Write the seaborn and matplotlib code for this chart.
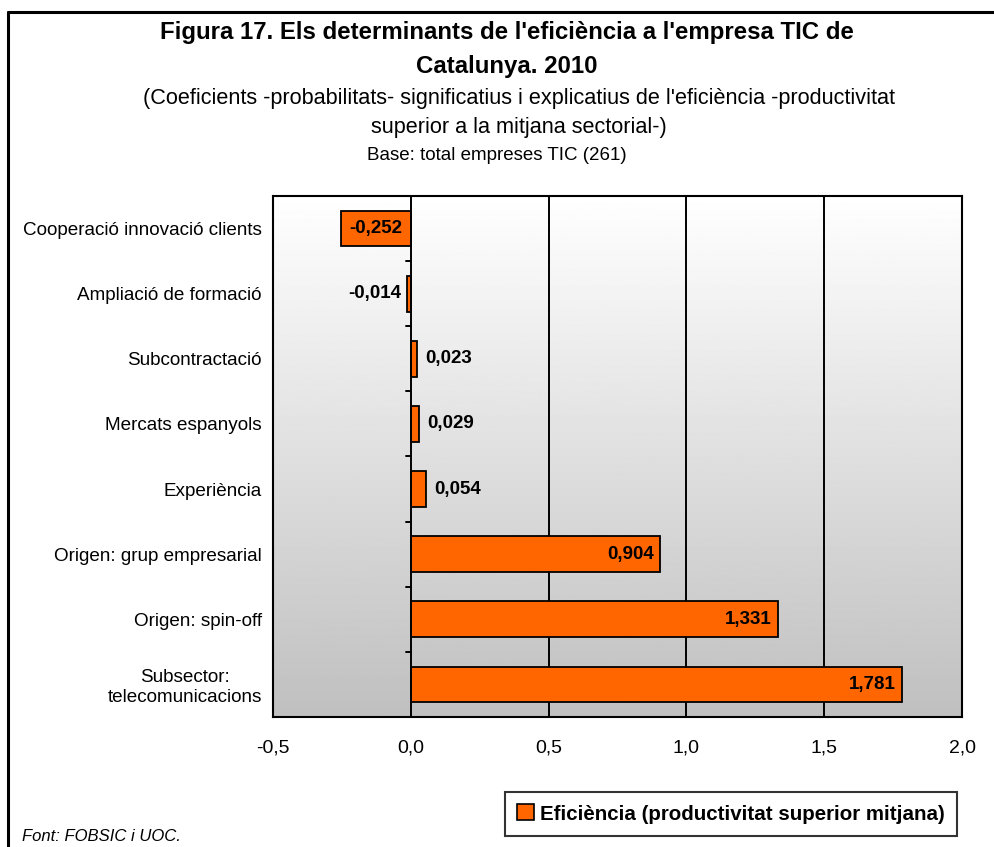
"""Figura 17: determinants de l'eficiència a l'empresa TIC de Catalunya (2010)."""

import matplotlib

matplotlib.use("Agg")

import matplotlib.pyplot as plt
import numpy as np
import pandas as pd
import seaborn as sns
from matplotlib.lines import Line2D
from matplotlib.patches import Patch

CATEGORIES = [
    "Cooperació innovació clients",
    "Ampliació de formació",
    "Subcontractació",
    "Mercats espanyols",
    "Experiència",
    "Origen: grup empresarial",
    "Origen: spin-off",
    "Subsector:\ntelecomunicacions",
]
VALUES = [-0.252, -0.014, 0.023, 0.029, 0.054, 0.904, 1.331, 1.781]
X_TICKS = [-0.5, 0.0, 0.5, 1.0, 1.5, 2.0]
SERIES_NAME = "Eficiència (productivitat superior mitjana)"

BAR_COLOR = "#ff6600"
FONT = ["Liberation Sans", "DejaVu Sans"]


def fmt(v, decimals=3):
    return f"{v:.{decimals}f}".replace(".", ",")


sns.set_theme(style="white")
plt.rcParams["font.family"] = FONT
plt.rcParams["text.color"] = "black"
plt.rcParams["xtick.color"] = "black"
plt.rcParams["ytick.color"] = "black"
plt.rcParams["axes.labelcolor"] = "black"

df = pd.DataFrame({"categoria": CATEGORIES, "valor": VALUES})

fig = plt.figure(figsize=(9.94, 8.47), dpi=100)
ax = fig.add_axes([273 / 994, 1 - 717 / 847, (962 - 273) / 994, (717 - 196) / 847])

# gradient background, white at top to grey at bottom
grad = np.linspace(1.0, 0.75, 256).reshape(-1, 1)
ax.imshow(
    grad,
    cmap="gray",
    vmin=0,
    vmax=1,
    aspect="auto",
    extent=(X_TICKS[0], X_TICKS[-1], len(CATEGORIES) - 0.5, -0.5),
    zorder=0,
)

for x in X_TICKS[2:-1]:
    ax.axvline(x, color="black", lw=1.4, zorder=1)

sns.barplot(
    data=df,
    x="valor",
    y="categoria",
    orient="h",
    color=BAR_COLOR,
    edgecolor="black",
    linewidth=1.3,
    width=0.55,
    saturation=1,
    ax=ax,
    zorder=2,
)

ax.axvline(0, color="black", lw=1.4, zorder=3)
for k in range(len(CATEGORIES) - 1):
    ax.plot([-0.018, 0], [k + 0.5, k + 0.5], color="black", lw=1.4, zorder=3)

for i, v in enumerate(VALUES):
    label = fmt(v)
    kw = dict(fontsize=13.5, fontweight="bold", va="center", color="black", zorder=4)
    if v < -0.1:
        ax.text(v / 2, i, label, ha="center", **kw)
    elif v < 0:
        ax.text(v - 0.02, i, label, ha="right", **kw)
    elif v < 0.3:
        ax.text(v + 0.03, i, label, ha="left", **kw)
    else:
        ax.text(v - 0.02, i, label, ha="right", **kw)

ax.set_xlim(X_TICKS[0], X_TICKS[-1])
ax.set_ylim(len(CATEGORIES) - 0.5, -0.5)
ax.set_xticks(X_TICKS)
ax.set_xticklabels([fmt(t, 1) for t in X_TICKS], fontsize=14)
ax.tick_params(axis="x", direction="out", length=7, width=1.4, color="black", pad=9)
ax.tick_params(axis="y", length=0, pad=8, labelsize=13.6)
for lbl in ax.get_yticklabels():
    lbl.set_horizontalalignment("right")
    lbl.set_multialignment("center")
ax.set_xlabel("")
ax.set_ylabel("")
for spine in ax.spines.values():
    spine.set_color("black")
    spine.set_linewidth(1.5)
    spine.set_zorder(5)

# titles
fig.text(0.51, 1 - 33 / 847, "Figura 17. Els determinants de l'eficiència a l'empresa TIC de",
         ha="center", va="center", fontsize=17.3, fontweight="bold")
fig.text(0.51, 1 - 66 / 847, "Catalunya. 2010",
         ha="center", va="center", fontsize=17.3, fontweight="bold")
fig.text(0.522, 1 - 98 / 847,
         "(Coeficients -probabilitats- significatius i explicatius de l'eficiència -productivitat",
         ha="center", va="center", fontsize=15.6)
fig.text(0.522, 1 - 127 / 847, "superior a la mitjana sectorial-)",
         ha="center", va="center", fontsize=15.6)
fig.text(0.5, 1 - 155 / 847, "Base: total empreses TIC (261)",
         ha="center", va="center", fontsize=13.5)
fig.text(22 / 994, 1 - 836 / 847, "Font: FOBSIC i UOC.",
         ha="left", va="center", fontsize=12, style="italic")

# legend
handle = Patch(facecolor=BAR_COLOR, edgecolor="black", linewidth=1.2)
leg = fig.legend(
    [handle],
    [SERIES_NAME],
    loc="center",
    bbox_to_anchor=(731 / 994, 1 - 814 / 847),
    prop={"family": FONT, "weight": "bold", "size": 14.8},
    frameon=True,
    fancybox=False,
    handlelength=0.8,
    handleheight=0.8,
    handletextpad=0.3,
    borderpad=0.6,
    borderaxespad=0,
)
leg.get_frame().set_edgecolor("black")
leg.get_frame().set_linewidth(1.5)

# outer frame (top and left edges visible)
fig.add_artist(Line2D([8 / 994, 1.0], [1 - 12 / 847, 1 - 12 / 847], color="black", lw=2.2))
fig.add_artist(Line2D([8 / 994, 8 / 994], [0.0, 1 - 12 / 847], color="black", lw=2.2))

fig.savefig("out.png", dpi=100)
